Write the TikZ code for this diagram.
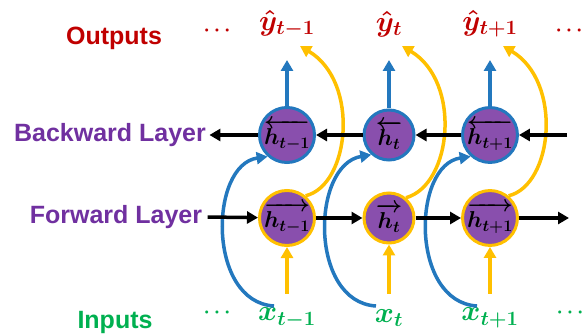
\RequirePackage{fix-cm}
\documentclass[tikz,border=0pt]{standalone}
\usepackage{amsmath,bm}
\usepackage{fontspec}
\setmainfont{Liberation Sans}
\usetikzlibrary{arrows.meta}

\definecolor{cellpurple}{RGB}{137,79,173}
\definecolor{labpurple}{RGB}{112,48,160}
\definecolor{bblue}{RGB}{35,120,190}
\definecolor{fgold}{RGB}{255,192,0}
\definecolor{outred}{RGB}{192,0,0}
\definecolor{ingreen}{RGB}{0,176,80}

\tikzset{
    bcell/.style={circle, fill=cellpurple, draw=bblue, line width=3pt,
        minimum size=50pt, inner sep=0pt, font=\fontsize{23}{25}\selectfont\boldmath},
    fcell/.style={bcell, draw=fgold},
    layername/.style={font=\fontsize{25}{30}\selectfont\bfseries, text=labpurple},
    tok/.style={font=\fontsize{29}{32}\selectfont\boldmath},
    dots/.style={font=\fontsize{20}{24}\selectfont\boldmath},
    flow/.style={line width=3.5pt, -{Triangle[length=11pt,width=12pt]}},
    skiparc/.style={line width=3.5pt, -{Triangle[length=11pt,width=12pt]}},
}

\begin{document}
\begin{tikzpicture}[x=1pt, y=-1pt]
\useasboundingbox (0,0) rectangle (587,336);

% Row titles
\node[font=\fontsize{25}{30}\selectfont\bfseries, text=outred] (outs) at (114,38) {Outputs};
\node[layername] (bwd) at (110,135) {Backward Layer};
\node[layername] (fwd) at (116,217) {Forward Layer};
\node[font=\fontsize{25}{30}\selectfont\bfseries, text=ingreen] (ins) at (115,322) {Inputs};

% Dots at the ends
\node[dots, text=outred] (dl) at (219,31) {$\cdots$};
\node[dots, text=outred] (dr) at (571,31) {$\cdots$};
\node[dots, text=ingreen] (il) at (219,313) {$\cdots$};
\node[dots, text=ingreen] (ir) at (572,313) {$\cdots$};

% Time steps
\foreach \i/\cx/\s in {1/287/{t-1}, 2/389/t, 3/490/{t+1}} {
    \node[bcell] (b\i) at (\cx,135) {$\overleftarrow{h_{\s}}$};
    \node[fcell] (f\i) at (\cx,218) {$\overrightarrow{h_{\s}}$};
    \node[tok, text=outred] (y\i) at (\cx,24) {$\hat{y}_{\s}$};
    \node[tok, text=ingreen] (x\i) at (\cx,318) {$x_{\s}$};
    % output and input arrows
    \draw[flow, bblue, shorten >=3pt] (b\i.north) -- (\cx,57);
    \draw[flow, fgold] (\cx,294) -- (f\i.south);
    % backward layer fed from the input
    \coordinate (bs\i) at (\cx-13,306);
    \draw[skiparc, bblue] (bs\i) .. controls (\cx-80,302) and (\cx-78,165) .. (b\i.228);
    % forward layer fed to the output
    \coordinate (ye\i) at (\cx+13,46);
    \draw[skiparc, fgold] (f\i.50) .. controls (\cx+63,185) and (\cx+73,82) .. (ye\i);
}

% Recurrent links
\coordinate (bin) at (567,135);
\coordinate (fout) at (569,218);
\draw[flow] (bin) -- (b3);
\draw[flow] (b3) -- (b2);
\draw[flow] (b2) -- (b1);
\draw[flow] (b1) -- (bwd.east);
\draw[flow, shorten <=2pt] (fwd.east) -- (f1);
\draw[flow] (f1) -- (f2);
\draw[flow] (f2) -- (f3);
\draw[flow] (f3) -- (fout);

\end{tikzpicture}
\end{document}
